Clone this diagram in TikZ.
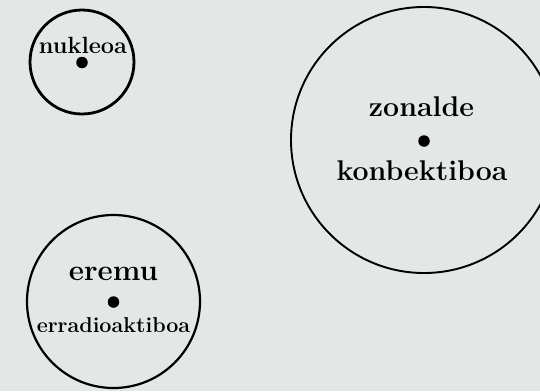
\documentclass[tikz,border=0pt]{standalone}
\definecolor{bg}{RGB}{227,231,229}
\tikzset{
  ring/.style={circle, draw=black, inner sep=0pt},
  centre/.style={circle, fill=black, inner sep=0pt, minimum size=11.5pt},
  lbl/.style={anchor=base, inner sep=0pt, font=\bfseries}
}
\begin{document}
\begin{tikzpicture}[x=1pt,y=-1pt]
\useasboundingbox (0,0) rectangle (540,391);
\fill[bg] (0,0) rectangle (540,391);
\clip (0,0) rectangle (540,391);
% small circle
\node[ring, line width=2.8pt, minimum size=104pt] (core) at (82,62) {};
\node[centre] (coredot) at (82,62.5) {};
\node[lbl, font=\bfseries\fontsize{23.5}{26}\selectfont] (coretxt) at (83,53.5) {nukleoa};
% big circle
\node[ring, line width=1.9pt, minimum size=266pt] (conv) at (424,140) {};
\node[centre] (convdot) at (424,141) {};
\node[lbl, font=\bfseries\fontsize{28.5}{31}\selectfont] (convtxt1) at (421.5,116.7) {zonalde};
\node[lbl, font=\bfseries\fontsize{28.5}{31}\selectfont] (convtxt2) at (422,180) {konbektiboa};
% bottom circle
\node[ring, line width=2.2pt, minimum size=173pt] (rad) at (113.5,301.5) {};
\node[centre] (raddot) at (113.5,302) {};
\node[lbl, font=\bfseries\fontsize{29.5}{32}\selectfont] (radtxt1) at (113.5,280) {eremu};
\node[lbl, font=\bfseries\fontsize{21.5}{24}\selectfont] (radtxt2) at (113.5,332) {erradioaktiboa};
\end{tikzpicture}
\end{document}
